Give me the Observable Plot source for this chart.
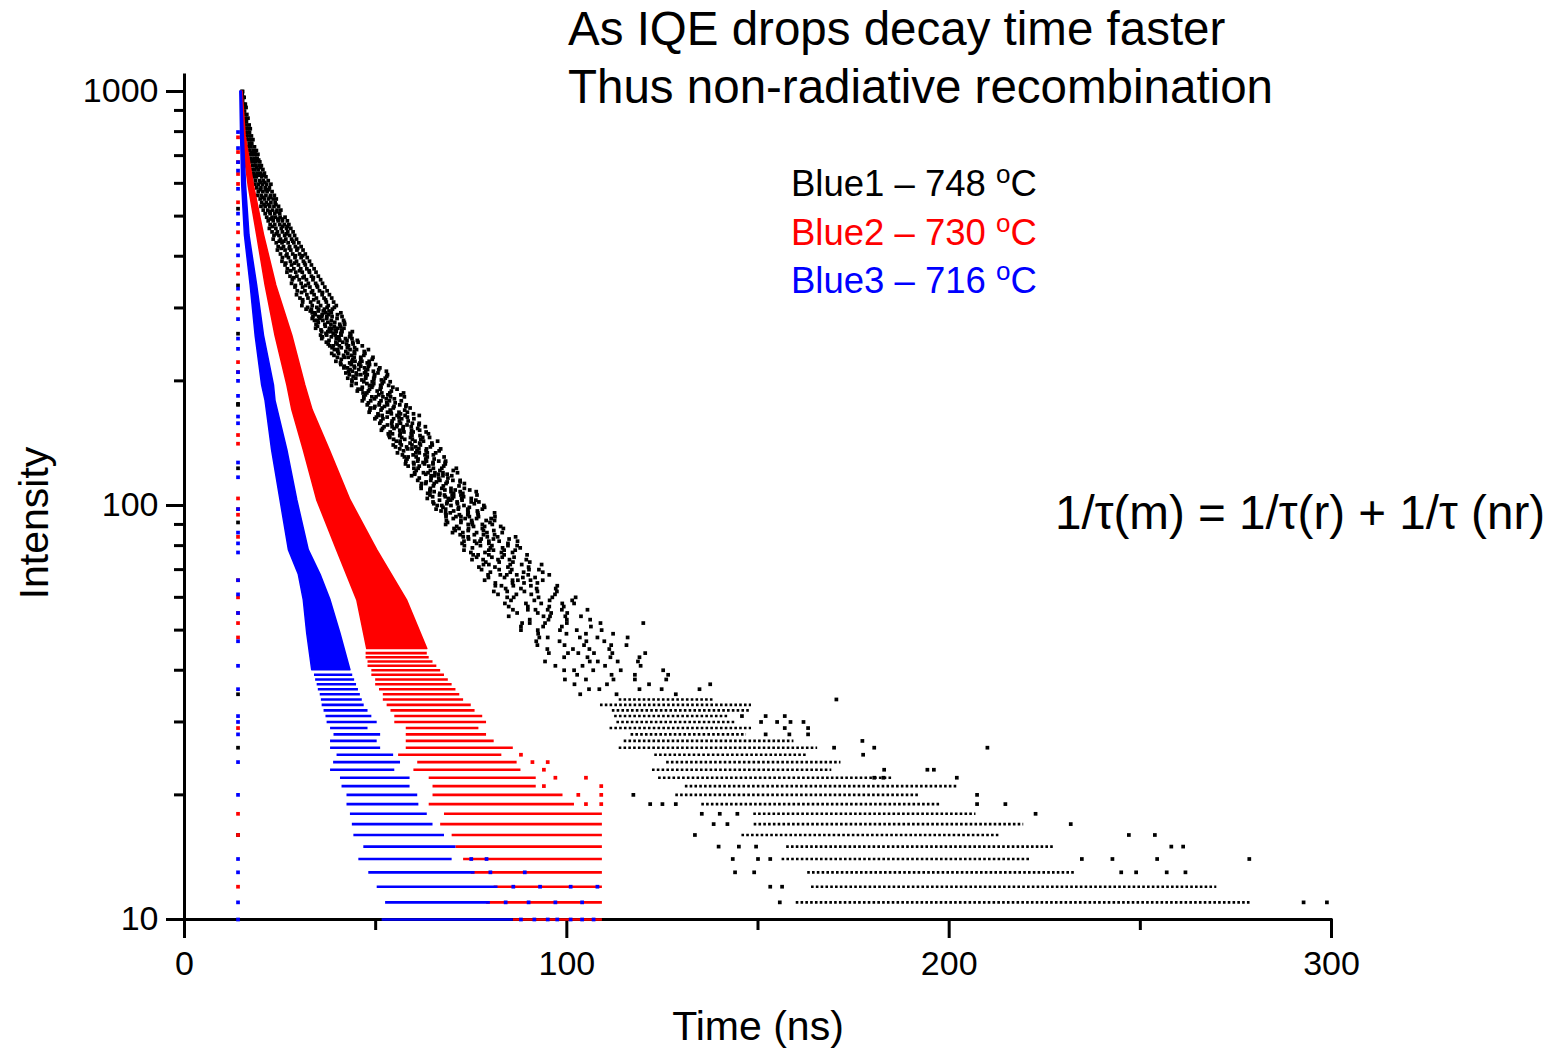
<!DOCTYPE html>
<html><head><meta charset="utf-8">
<script src="https://cdn.jsdelivr.net/npm/d3@7"></script>
<script src="https://cdn.jsdelivr.net/npm/@observablehq/plot@0.6"></script>
<style>
html,body{margin:0;padding:0;background:#fff;}
#chart{position:relative;width:1566px;height:1049px;overflow:hidden;}
</style></head><body><div id="chart"></div>
<script>
// ---------- ticks & text ----------
const timeTicks = [0, 100, 200, 300];
const timeMinorTicks = [50, 150, 250];
const intensityTicks = [10, 100, 1000];
const intensityMinorTicks = [20, 30, 40, 50, 60, 70, 80, 90, 200, 300, 400, 500, 600, 700, 800, 900];
const titleLines = ["As IQE drops decay time faster", "Thus non-radiative recombination"];
const seriesNames = ["Blue1 – 748 ", "Blue2 – 730 ", "Blue3 – 716 "];
const seriesColors = ["#000000", "#ff0000", "#0000ff"];
const formulaText = "1/τ(m) = 1/τ(r) + 1/τ (nr)";
const xTitle = "Time (ns)";
const yTitle = "Intensity";

// ---------- Blue1 (black): scatter rows [intensity, t, t, ...] ----------
const blackRows = [
[1000,15.0,15.2],[985,15.1],[968,15.3,15.6],[950,15.2],[932,15.5,15.9],[915,15.3,16.1],[897,15.7],[880,15.6,16.3],
[862,15.9,16.6],[846,15.7,16.2],[830,16.1,16.9],[813,15.9,16.6,17.2],[797,16.3,17.0],[781,16.1,16.8,17.5],[765,16.5,17.3,17.9],
[750,16.9,17.6],[735,16.7,17.4,18.3],[720,17.1,18.0,18.8],[705,16.9,17.7,18.5,19.2],[690,17.4,18.3,19.0],[676,17.2,18.1,18.7,19.7],
[662,17.8,18.6,19.5,20.1],[648,17.6,18.4,19.3,20.5],[635,18.1,19.0,19.9,20.9],[622,18.0,18.8,20.2,21.3],[609,18.5,19.6,20.6,21.9],
[597,18.4,19.3,20.4,21.5,22.6],[585,18.9,20.0,21.1,22.2],[573,19.3,20.5,21.6,22.9],[561,19.1,20.1,21.3,22.5,23.5],[550,19.8,20.9,22.0,23.2,24.0],
[539,20.2,21.4,22.6,23.7],[528,20.0,21.1,22.3,23.4,24.6],[517,20.6,21.8,23.0,24.2,25.2],[507,21.1,22.4,23.6,24.9],[497,21.5,22.9,23.8,25.0,26.3],
[487,21.9,23.2,24.5,25.6,26.9],[477,22.4,23.6,24.9,26.1,27.3],[467,22.2,23.9,25.3,26.7,27.8],[458,22.9,24.3,25.6,27.0,28.4],[449,23.4,24.7,26.2,27.5,28.8],
[440,23.2,25.1,26.5,28.0,29.3],[431,24.0,25.5,27.1,28.6,29.9],[422,24.5,25.9,27.5,29.0,30.5],[414,24.3,26.3,27.8,29.4,31.0],[405,25.1,26.8,28.3,30.1,31.6],
[397,25.6,27.2,28.9,30.5,32.1],[389,25.5,27.7,29.3,31.1,32.7],[381,26.3,28.0,29.8,31.6,33.2],[373,26.9,28.6,30.4,32.0,33.9],[366,26.8,29.1,30.8,32.7,34.4],
[358,27.6,29.4,31.3,33.2,35.0],[351,28.2,30.0,31.9,33.6,35.6],[344,28.0,30.5,32.4,34.3,36.1],[337,28.9,30.9,32.8,34.8,36.7],[330,29.5,31.5,33.5,35.3,37.3],
[323,29.3,32.0,33.9,36.0,37.9],[317,30.2,32.3,34.5,36.5,38.5],[310,30.9,33.0,35.0,37.1,39.0],[304,30.7,33.4,35.6,37.6,39.7],
[298,31.8,33.2,35.1,36.6,38.7],[292,33.4,34.1,36.9,38.4,40.9],[286,33.6,35.1,35.9,37.2,38.6,41.2],[280,34.0,34.8,36.2,38.4,41.6],
[274,34.4,36.7,38.3,40.6,41.9],[268,34.3,37.9,38.5,40.1,41.7],[263,35.9,37.5,38.3,39.7,41.2,43.9],[258,35.6,37.2,39.4,41.0,43.5],
[253,35.9,39.7,40.4,42.1,43.8],[248,37.1,39.6,41.4,44.0,45.4],[243,38.0,38.9,40.5,42.9,46.5],[238,39.2,40.0,43.3,45.0,48.1],
[233,38.5,40.3,42.7,44.5,47.2],[228,40.0,41.8,42.8,44.4,46.1,49.3],[223,39.6,43.8,44.6,46.4,48.3],[219,40.9,43.6,45.6,48.4,50.0],
[215,41.7,42.6,44.5,47.1,51.1],[211,42.9,43.9,47.4,49.4,52.8],[207,43.1,45.1,46.1,47.8,49.7,53.1],[203,42.7,44.8,47.4,49.5,52.5],
[199,43.8,46.9,49.1,52.1,53.8],[195,43.7,48.4,49.2,51.3,53.4],[191,45.4,46.4,48.4,51.2,55.6],[187,46.7,47.7,51.6,53.7,57.3],
[183,46.9,49.0,50.1,51.9,53.9,57.5],[179,46.5,48.7,51.4,53.6,56.7],[175,47.8,50.9,53.1,56.3,58.0],[172,48.6,49.6,51.7,54.6,59.0],
[168,48.3,53.1,54.0,56.1,58.3],[165,50.7,51.7,55.6,57.7,61.4],[162,49.8,51.9,54.7,56.8,60.0],[158,51.1,54.2,56.5,59.6,61.4],
[155,52.2,54.3,55.5,57.2,59.3,63.0],[152,51.5,56.3,57.2,59.4,61.5],[149,53.3,54.4,56.4,59.3,63.8],[146,53.7,56.8,59.1,62.3,64.1],
[143,55.4,56.4,60.3,62.5,66.2],[140,54.6,56.7,59.5,61.7,64.8],[137,56.3,58.4,59.5,61.3,63.3,67.0],[134,55.7,60.5,61.4,63.5,65.7],
[131,57.5,58.5,60.6,63.5,67.9],[128,57.9,61.0,63.3,66.5,68.3],[126,57.8,60.0,62.8,65.0,68.2],[123,60.0,61.1,65.1,67.3,71.1],
[120,60.2,62.5,63.7,65.5,67.6,71.4],[118,59.4,64.5,65.4,67.6,69.9],[115,61.0,64.4,66.8,70.2,72.1],[113,62.0,63.1,65.3,68.4,73.2],
[110,61.9,64.3,67.3,69.7,73.2],[108,64.2,65.3,69.7,72.1,76.3],[106,64.2,66.7,68.0,70.0,72.3,76.5],[104,63.5,69.0,70.0,72.5,75.0],
[102,65.0,68.7,71.3,75.0,77.0],[100,66.1,67.3,69.7,73.1,78.3],[98,65.8,68.3,71.6,74.1,77.9],[96,68.3,69.5,74.2,76.7,81.1],
[94,68.4,71.0,72.3,74.5,76.9,81.2],[92,68.5,72.3,75.1,78.9,81.1],[90,68.3,74.2,75.3,77.9,80.5],[88,70.5,71.8,74.3,77.9,83.4],
[86,70.1,72.8,76.4,79.1,83.1],[84,72.9,74.2,79.2,81.9,86.6],[82,73.1,75.9,77.3,79.6,82.3,87.1],[80,73.2,77.4,80.4,84.6,87.0],
[78,73.1,79.6,80.8,83.6,86.5],[76,75.5,76.8,79.6,83.6,89.6],[74,75.2,78.1,82.0,85.0,89.4],[72,78.2,79.6,85.2,88.2,93.4],
[70,77.7,82.3,85.6,90.1,92.7],[68,79.4,82.6,84.3,86.9,89.9,95.4],[66,78.5,85.8,87.2,90.5,93.7],[64,81.3,82.9,86.0,90.6,97.5],
[62,80.9,84.4,88.9,92.3,97.4],[60,84.4,86.1,92.6,96.2,102.3],[58,83.8,89.3,93.3,98.8,101.9],[56,85.9,89.8,91.8,95.0,98.7,105.4],
[54,84.8,93.9,95.6,99.6,103.7],[52,88.3,90.3,94.3,100.0,108.8,120.0],[50,88.0,92.4,98.2,102.6,109.1],[48,92.8,95.0,103.4,108.0,115.9],
[46,92.3,99.4,104.5,111.6,115.6],[44,95.3,100.3,103.0,107.1,111.9,120.5],[42,94.3,106.0,108.1,113.3,118.6],[40,99.3,101.9,106.9,114.1,125.2],
[38,99.5,105.0,112.2,117.8,126.0],[37,102.0,110.5,121.5,137.5],[36,105.8,108.5,119.0,124.8,134.7],[35,103.5,113.0,128.5]
];
// second reading pass, between the rows above
const blackRows2 = [
[712,17.5,18.4],[683,17.8,18.9,19.4],[655,18.9,19.9],[628,18.6,19.5,20.6],[603,19.9,21.0],[579,19.8,21.3,22.0],[555,20.5,22.4],
[533,20.8,22.0,23.9],[512,22.2,24.0],[492,22.4,24.4,25.6],[472,23.0,25.7,26.9],[453,24.0,26.6],[435,24.8,26.0,28.3],[418,25.3,27.4,29.6],
[401,26.6,29.0,30.9],[385,26.5,28.8,31.4],[369,27.8,30.1,32.6],[355,28.6,31.0,33.7],[340,29.0,31.7,34.6],[327,30.6,33.2,36.1],
[314,30.9,33.8,36.9],[301,32.2,34.6,37.3,39.2],
[295,32.9,35.0,36.3,37.8],[289,34.2,36.0,37.7,40.0],[283,33.4,35.4,37.2,39.9],[277,35.0,37.5,39.3,41.8],[271,34.8,36.8,39.2,40.8],
[265.5,35.7,37.9,39.4,41.1],[260.5,37.0,38.9,40.9,43.3],[255.5,36.1,38.4,40.3,43.2],[250.5,37.8,40.6,42.5,45.2],[245.5,37.6,39.9,42.4,44.1],
[240.5,38.6,41.0,42.6,44.5],[235.5,40.1,42.2,44.4,47.0],[230.5,39.1,41.6,43.7,46.9],[225.5,41.0,44.0,46.1,49.1],[221,40.8,43.2,45.9,47.8],
[217,41.8,44.4,46.1,48.1],[213,43.3,45.6,47.9,50.8],[209,42.2,44.9,47.1,50.6],[205,44.1,47.4,49.7,52.9],[201,43.8,46.4,49.5,51.5],
[197,44.9,47.7,49.5,51.7],[193,46.5,49.0,51.4,54.5],[189,45.2,48.1,50.4,54.1],[185,47.3,50.8,53.2,56.6],[181,46.9,49.7,52.8,54.9],
[177,48.1,51.0,52.9,55.1],[173.5,49.8,52.3,54.8,57.9],[170,48.5,51.4,53.8,57.6],[166.5,50.6,54.1,56.5,59.9],[163.5,50.2,53.0,56.1,58.3],
[160,51.4,54.3,56.2,58.5],[156.5,53.1,55.6,58.2,61.3],[153.5,51.8,54.8,57.2,61.0],[150.5,53.8,57.4,59.8,63.2],[147.5,53.5,56.3,59.5,61.6],
[144.5,54.7,57.6,59.6,61.8],[141.5,56.4,59.0,61.5,64.7],[138.5,55.2,58.1,60.5,64.3],[135.5,57.3,60.8,63.2,66.6],[132.5,57.0,59.8,62.9,65.1],
[129.5,58.2,61.1,63.1,65.3],[127,59.9,62.4,65.0,68.2],[124.5,58.5,61.4,63.9,67.8],[121.5,60.6,64.3,66.8,70.3],[119,60.2,63.1,66.4,68.7],
[116.5,61.4,64.5,66.5,68.9],[114,63.2,65.9,68.7,72.1],[111.5,61.9,65.1,67.7,71.8],[109,64.2,68.1,70.8,74.6],[107,63.6,66.8,70.4,72.8],
[105,64.9,68.2,70.4,73.0],[103,66.7,69.6,72.6,76.2],[101,65.2,68.6,71.4,75.8],[99,67.6,71.7,74.5,78.5],[97,67.1,70.4,74.1,76.6],
[95,68.4,71.9,74.1,76.8],[93,70.3,73.4,76.4,80.2],[91,68.8,72.3,75.2,79.9],[89,71.2,75.6,78.5,82.7],[87,70.8,74.2,78.2,80.9],
[85,72.1,75.8,78.2,81.1],[83,74.3,77.6,80.8,84.9],[81,72.6,76.4,79.6,84.6],[79,75.3,80.0,83.2,87.8],[77,74.9,78.6,82.9,85.8],
[75,76.4,80.4,83.1,86.2],[73,78.8,82.3,85.9,90.3],[71,77.0,81.2,84.6,90.0],[69,80.0,85.2,88.7,93.7],[67,79.5,83.7,88.5,91.7],
[65,81.3,85.8,88.8,92.3],[63,84.0,88.0,92.1,97.1],[61,82.0,86.8,90.7,96.9],[59,85.4,91.5,95.5,101.4],[57,84.8,89.8,95.4,99.2],
[55,87.0,92.4,95.9,100.1],[53,90.3,95.2,100.0,106.1],[51,88.0,93.8,98.7,106.3],[49,92.5,99.9,105.0,112.1],[47,92.0,98.1,105.1,109.8],
[45,94.9,101.6,105.9,111.1],[43,99.3,105.4,111.4,119.0],[41,97.0,104.1,110.0,119.3],[39,102.7,111.7,117.8,126.5]
];
// photon-count levels: [count, tStart, tEnd]
const blackRuns = [
[10,100,300],[11,160,279],[12,164,270],[13,163,232.8],[14,156.3,221.1],[15,157.5,227.3],[16,145.8,213],[17,149,219.5],
[18,148.9,207],[19,135.3,198],[20,128.5,192.5],[21,131,202],[22,124,185],[23,122.4,169.3],[24,126.1,171.7],[25,123,163.1],
[26,113.7,165.6],[27,115,159.4],[28,116.8,147],[29,111.3,148.3],[30,113.1,144],[31,112.5,142.1],[32,111.9,148.3],[33,108.8,148.3],[34,113.7,138.4]
];
const blackOutliers = [
[155.7,11],[292.7,11],[298.8,11],[153.2,12],[156.3,12],[144,13],[149,13],[245,13],[248.9,13],[256.9,13],[261.8,13],
[143.4,14],[150,14],[153.2,14],[234.7,14],[242.7,14],[254.4,14],[278.5,14],[139.7,15],[145,15],[149.5,15],[258.1,15],[261.2,15],
[133.5,16],[247,16],[253.8,16],[138.4,17],[142,17],[231.8,17],[135.3,18],[140,18],[144.6,18],[222.6,18],
[121.8,19],[125,19],[128.5,19],[207.3,19],[214.7,19],[117.4,20],[207.3,20],[180.4,22],[182.8,22],[202,22],
[183,23],[194.3,23],[196,23],[177.5,25],[169.9,26],[180.4,26],[210,26],[177.3,27],[152,28],[158.2,28],[163.1,28],
[157,29],[163.1,29],[150.8,30],[155,30],[158.5,30],[161.9,30],[145.8,31],[152,31],[157,31],[170.5,34]
];

// ---------- Blue2 (red) ----------
// dense band: [intensity, left t, right t]
const redBand = [
[1000,14.8,15.2],[780,15.1,16.0],[590,16.8,18.2],[450,19.0,20.8],[340,21.2,24.0],[257,23.8,28.2],[195,26.9,31.6],
[170,28.2,33.5],[136,31.2,38.0],[103,34.7,43.4],[78,39.9,50.4],[59,45.2,58.2],[45,47.8,63.5]
];
const redRuns = [
[10,86,109.3],[11,79,109.3],[12,81,109.3],[13,75,109.3],[14,73,109.3],[15,71,109.3],[16,70,109.3],[17,67,109.3],[18,68,109.3],
[19,64,102],[20,65,99],[21,65,92],[22,64,92],[23,60,88],[24,61,87],[25,56,83],[26,58,86],[27,58,81],[28,58,79],[29,58,77],
[30,55,79],[31,55,78],[32,54,76],[33,53,75],[34,52,73],[35,52,72],[36,51,71],[37,50,70],[38,50,69],[39,49,68],[40,49,67],
[41,48,66],[42,48,65],[43,47.5,64],[44,47.5,63.5]
];
const redOutliers = [[105,19],[109,19],[103,20],[109,20],[94,21],[109,21],[97,22],[105,22],[94,23],[91,24],[95,24],[88,25]];

// ---------- Blue3 (blue) ----------
const blueBand = [
[1000,14.6,15.0],[783,14.8,15.5],[593,15.1,16.1],[449,15.8,17.0],[340,17.3,19.0],[257,18.6,20.8],[195,20.3,23.4],
[179,21.2,23.8],[136,22.9,26.9],[103,25.1,29.5],[78,27.3,32.5],[68,29.9,35.6],[59,31.2,38.2],[49,32.1,40.8],[40,33.4,43.4]
];
const blueRuns = [
[10,51.7,86],[11,52.6,80],[12,50.4,82],[13,48.2,76],[14,45.6,70],[15,46.9,71],[16,44.3,68],[17,43.9,65],[18,43.4,63.5],
[19,42.5,61.3],[20,42.5,61],[21,41.2,59],[22,40.8,59],[23,38.2,55],[24,39,56.5],[25,39.9,54.7],[26,38.2,51.3],[27,38.2,50.4],
[28,39.1,51.3],[29,38.2,48],[30,37.3,50.4],[31,37,49],[32,36.5,48],[33,36,47],[34,35.8,46.5],[35,35.5,46],[36,35,45.5],
[37,34.7,45],[38,34.3,44.5],[39,34,44]
];
const blueSpecks = [[88,10],[91.5,10],[95,10],[97.5,10],[101,10],[104,10],[107,10],[84,11],[90,11],[97,11],[104,11],
[86,12],[93,12],[101,12],[108,12],[80,13],[89,13],[75,14],[79,14]];

// ---------- early channel column (all series) ----------
const columnTime = 14.0;
const columnBlack = [521, 340, 260, 176, 175, 123, 91, 35, 26, 16];
const columnRed = [775, 714, 675, 632, 598, 540, 457, 380, 363, 316, 299, 222, 210, 148, 141, 104, 98, 95, 84, 66, 60, 55, 52, 48, 29, 18, 16, 12];
const columnBlue = [798, 730, 675, 644, 582, 507, 479, 425, 402, 334, 282, 253, 239, 210, 200, 184, 164, 158, 127, 117, 98, 86, 81, 77, 66, 61, 55, 47, 41, 36, 31, 30, 28, 24, 20, 14, 13, 11, 10];

// ---------- build ----------
const rowPts = rows => rows.flatMap(([I, ...ts]) => ts.map(t => ({t, I})));
const pairPts = arr => arr.map(([t, I]) => ({t, I}));
const colPts = arr => arr.map(I => ({t: columnTime, I}));
const FONT = "'Liberation Sans', Arial, Helvetica, sans-serif";
const dotR = 2.1;

const band = (data, color) => Plot.areaX(data, {y: d => d[0], x1: d => d[1], x2: d => d[2], fill: color, stroke: color, strokeWidth: 1.5});
const runs = (data, color, dash) => Plot.ruleY(data, {y: d => d[0], x1: d => d[1], x2: d => d[2], stroke: color, strokeWidth: 2.6, strokeDasharray: dash});
const dots = (data, color) => Plot.dot(data, {x: "t", y: "I", symbol: "square", r: dotR, fill: color, stroke: null});

const plot = Plot.plot({
  width: 1566, height: 1049,
  marginLeft: 184, marginRight: 235, marginTop: 75, marginBottom: 130,
  style: {fontFamily: FONT, fontSize: "34px", color: "#000", background: "#fff"},
  x: {domain: [0, 300]},
  y: {type: "log", domain: [10, 1093]},
  marks: [
    Plot.axisX(timeTicks, {tickSize: 19, tickPadding: 12, strokeWidth: 3, fontSize: 34, label: null, tickFormat: d => String(d)}),
    Plot.axisX(timeMinorTicks, {tickSize: 11, strokeWidth: 3, label: null, tickFormat: () => ""}),
    Plot.axisY(intensityTicks, {tickSize: 18, tickPadding: 8, strokeWidth: 3, fontSize: 34, label: null, tickFormat: d => String(d)}),
    Plot.axisY(intensityMinorTicks, {tickSize: 10, strokeWidth: 3, label: null, tickFormat: () => ""}),
    Plot.ruleX([0], {strokeWidth: 3, strokeLinecap: "square"}),
    Plot.ruleY([10], {strokeWidth: 3, strokeLinecap: "square"}),
    // Blue1
    dots(rowPts(blackRows), seriesColors[0]),
    dots(rowPts(blackRows2), seriesColors[0]),
    runs(blackRuns, seriesColors[0], "2.6 2.2"),
    dots(pairPts(blackOutliers), seriesColors[0]),
    dots(colPts(columnBlack), seriesColors[0]),
    // Blue2
    band(redBand, seriesColors[1]),
    runs(redRuns, seriesColors[1], null),
    dots(pairPts(redOutliers), seriesColors[1]),
    dots(colPts(columnRed), seriesColors[1]),
    // Blue3
    band(blueBand, seriesColors[2]),
    runs(blueRuns, seriesColors[2], null),
    dots(pairPts(blueSpecks), seriesColors[2]),
    dots(colPts(columnBlue), seriesColors[2])
  ]
});
document.getElementById("chart").appendChild(plot);

// ---------- annotations ----------
const svg = d3.select(plot);
const g = svg.append("g").attr("font-family", FONT).attr("fill", "#000").attr("text-anchor", "start");
titleLines.forEach((s, i) => {
  g.append("text").attr("x", 568).attr("y", 45 + 57.5 * i).attr("font-size", 47.5).text(s);
});
seriesNames.forEach((s, i) => {
  const t = g.append("text").attr("x", 791).attr("y", 196 + 48.6 * i).attr("font-size", 36.5).attr("fill", seriesColors[i]);
  t.append("tspan").text(s);
  t.append("tspan").attr("font-size", 26).attr("dy", -13).text("o");
  t.append("tspan").attr("font-size", 36.5).attr("dy", 13).text("C");
});
g.append("text").attr("x", 1055).attr("y", 529).attr("font-size", 47.6).text(formulaText);
g.append("text").attr("x", 758).attr("y", 1040).attr("font-size", 41).attr("text-anchor", "middle").text(xTitle);
g.append("text").attr("transform", "translate(48,523) rotate(-90)").attr("font-size", 41).attr("text-anchor", "middle").text(yTitle);
</script>
</body></html>
